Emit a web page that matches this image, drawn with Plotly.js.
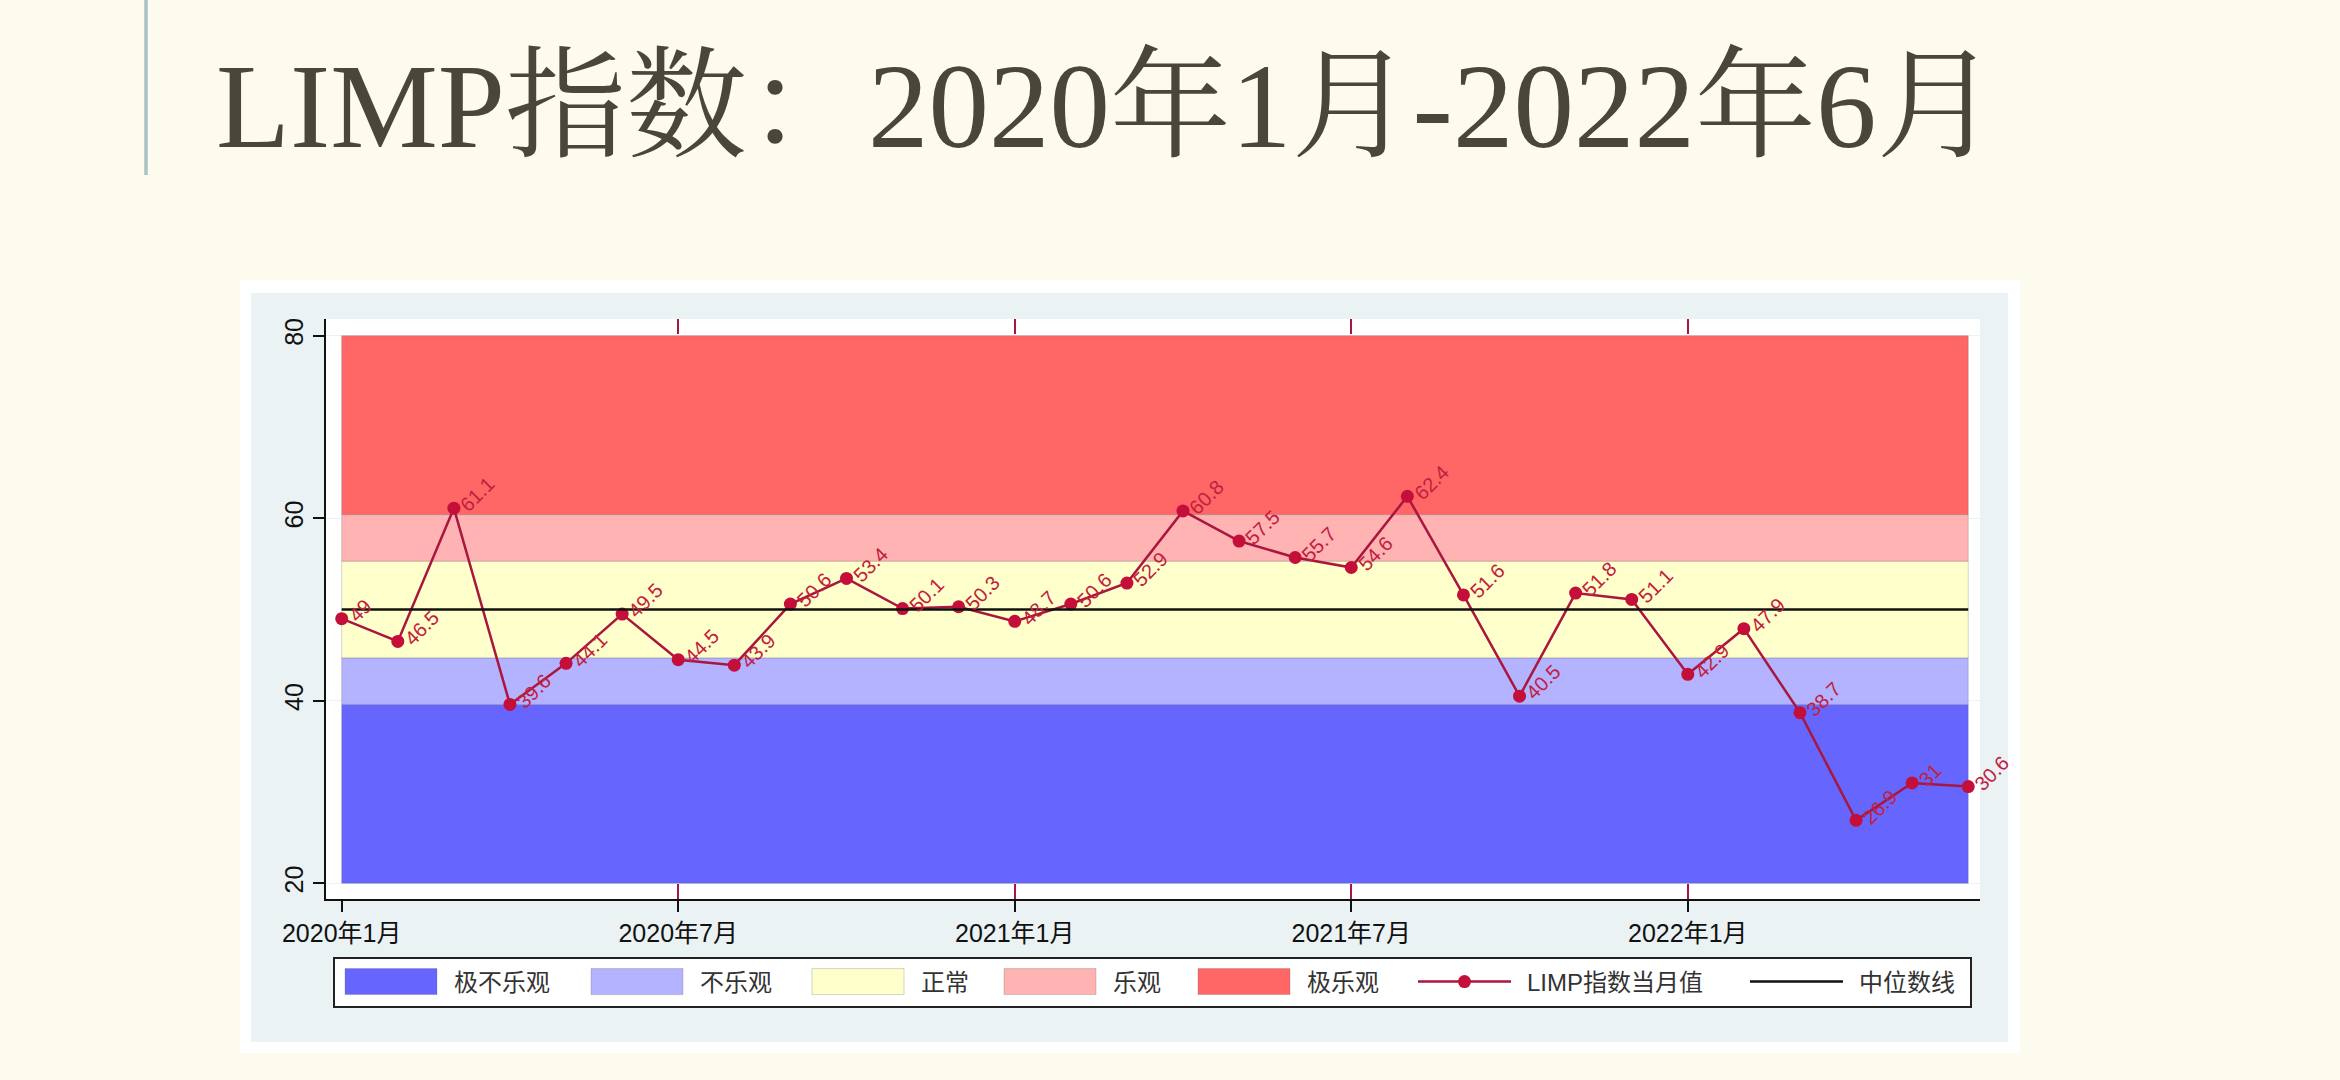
<!DOCTYPE html>
<html>
<head>
<meta charset="utf-8">
<script src="https://cdn.plot.ly/plotly-3.0.1.min.js"></script>
<style>
  html, body { margin: 0; padding: 0; background: #fdfaee; }
  #chart { width: 2340px; height: 1080px; }
</style>
</head>
<body>
<div id="chart"></div>
<script>
// monthly LIMP index, Jan 2020 - Jun 2022
const months = ['2020-01', '2020-02', '2020-03', '2020-04', '2020-05', '2020-06',
                '2020-07', '2020-08', '2020-09', '2020-10', '2020-11', '2020-12',
                '2021-01', '2021-02', '2021-03', '2021-04', '2021-05', '2021-06',
                '2021-07', '2021-08', '2021-09', '2021-10', '2021-11', '2021-12',
                '2022-01', '2022-02', '2022-03', '2022-04', '2022-05', '2022-06'];
const limpValues = [49, 46.5, 61.1, 39.6, 44.1, 49.5,
                    44.5, 43.9, 50.6, 53.4, 50.1, 50.3,
                    48.7, 50.6, 52.9, 60.8, 57.5, 55.7,
                    54.6, 62.4, 51.6, 40.5, 51.8, 51.1,
                    42.9, 47.9, 38.7, 26.9, 31, 30.6];
const medianValue = 50;

const tickMonths = ['2020-01', '2020-07', '2021-01', '2021-07', '2022-01'];
const tickLabels = ['2020年1月', '2020年7月', '2021年1月', '2021年7月', '2022年1月'];
const yTicks = [20, 40, 60, 80];

const bandNames = ['极不乐观', '不乐观', '正常', '乐观', '极乐观'];
const bandLow = [20, 39.6, 44.7, 55.3, 60.4];
const bandHigh = [39.6, 44.7, 55.3, 60.4, 80];
const bandColors = ['#6666ff', '#b3b3ff', '#ffffcc', '#ffb3b3', '#ff6666'];

const seriesName = 'LIMP指数当月值';
const medianName = '中位数线';
const titleText = 'LIMP指数：2020年1月-2022年6月';

// page geometry (pixels) -> paper coords
const PLOT_L = 326, PLOT_R = 1980, PLOT_T = 319, PLOT_B = 899;
const px = v => (v - PLOT_L) / (PLOT_R - PLOT_L);
const py = v => (PLOT_B - v) / (PLOT_B - PLOT_T);
const X_RANGE = [-0.28, 29.21];
// left edge of each legend key, in page pixels
const legendSlots = [345, 591, 812, 1004, 1198, 1418, 1750];

const sansFont = 'Liberation Sans, Arial, "Noto Sans CJK SC", sans-serif';
const serifFont = 'Liberation Serif, "Noto Serif CJK SC", "Noto Sans CJK SC", serif';
const markerColor = '#c40f3a';
const lineColor = '#a9163e';

let traces = [];

const first = months[0], last = months[months.length - 1];
bandNames.forEach((name, i) => {
    traces.push({
        x: [first, last, last, first, first],
        y: [bandLow[i], bandLow[i], bandHigh[i], bandHigh[i], bandLow[i]],
        type: 'scatter',
        mode: 'lines',
        name: name,
        fill: 'toself',
        fillcolor: bandColors[i],
        line: { color: 'rgba(90,90,90,0.25)', width: 1 },
        hoverinfo: 'skip'
    });
});

traces.push({
    x: months,
    y: limpValues,
    type: 'scatter',
    mode: 'lines+markers',
    name: seriesName,
    line: { color: lineColor, width: 2.5 },
    marker: { color: markerColor, size: 13 }
});

// median line lives on the overlay axis (same month index scale)
traces.push({
    x: [0, months.length - 1],
    y: [medianValue, medianValue],
    xaxis: 'x2',
    type: 'scatter',
    mode: 'lines',
    name: medianName,
    line: { color: '#111111', width: 2.5 }
});

traces.forEach((t, i) => { t.legend = i === 0 ? 'legend' : 'legend' + (i + 1); });

// rotated value labels to the right of each marker
const LABEL_SIZE = 20;
const charW = c => (c === '.' ? 0.278 : 0.556) * LABEL_SIZE;
const labels = months.map((m, i) => {
    const txt = String(limpValues[i]);
    const half = txt.split('').reduce((s, c) => s + charW(c), 0) / 2;
    return {
        x: m, y: limpValues[i], xref: 'x', yref: 'y',
        text: txt, showarrow: false, textangle: -45,
        xanchor: 'center', yanchor: 'middle',
        xshift: 10 + half * 0.707, yshift: half * 0.707,
        font: { family: sansFont, size: LABEL_SIZE, color: '#c2203f' }
    };
});

const redTicks = tickMonths.slice(1).map(m => months.indexOf(m));

const shapes = [
    // accent bar beside the slide title
    { type: 'line', xref: 'paper', yref: 'paper', layer: 'below',
      x0: px(146), x1: px(146), y0: py(0), y1: py(175),
      line: { color: '#a8c3c5', width: 3.5 } },
    // white frame
    { type: 'rect', xref: 'paper', yref: 'paper', layer: 'below',
      x0: px(240), x1: px(2020), y0: py(1053), y1: py(280),
      fillcolor: '#ffffff', line: { width: 0 } },
    // graph region
    { type: 'rect', xref: 'paper', yref: 'paper', layer: 'below',
      x0: px(251), x1: px(2008), y0: py(1042), y1: py(293),
      fillcolor: '#eaf2f3', line: { width: 0 } },
    // plot region
    { type: 'rect', xref: 'paper', yref: 'paper', layer: 'below',
      x0: 0, x1: 1, y0: 0, y1: 1,
      fillcolor: '#ffffff', line: { width: 0 } },
    // legend frame
    { type: 'rect', xref: 'paper', yref: 'paper', layer: 'below',
      x0: px(334), x1: px(1971), y0: py(1007), y1: py(958),
      fillcolor: '#ffffff', line: { color: '#222222', width: 2 } }
];

const layout = {
    autosize: false,
    width: 2340,
    height: 1080,
    margin: { l: PLOT_L, r: 2340 - PLOT_R, t: PLOT_T, b: 1080 - PLOT_B, pad: 0 },
    paper_bgcolor: '#fdfaee',
    plot_bgcolor: '#ffffff',
    title: {
        text: titleText,
        xref: 'container', x: 216 / 2340, xanchor: 'left',
        yref: 'container', y: 1 - 105 / 1080, yanchor: 'middle',
        pad: { l: 0, r: 0, t: 0, b: 0 },
        font: { family: serifFont, size: 121, color: '#4b4738' }
    },
    showlegend: true,
    xaxis: {
        type: 'category',
        categoryorder: 'array',
        categoryarray: months,
        range: X_RANGE,
        showline: true, linecolor: '#111111', linewidth: 2,
        ticks: 'outside', ticklen: 11, tickwidth: 2, tickcolor: '#111111',
        tickvals: tickMonths, ticktext: tickLabels,
        tickfont: { family: sansFont, size: 25, color: '#111111' },
        showgrid: false, zeroline: false, fixedrange: true
    },
    xaxis2: {
        overlaying: 'x', anchor: 'y', side: 'bottom',
        range: X_RANGE,
        showline: false, showgrid: false, zeroline: false,
        ticks: 'inside', mirror: 'ticks', ticklen: 15, tickwidth: 2,
        tickcolor: lineColor,
        tickvals: redTicks, showticklabels: false, fixedrange: true
    },
    yaxis: {
        range: [18.28, 81.83],
        showline: true, linecolor: '#111111', linewidth: 2,
        ticks: 'outside', ticklen: 11, tickwidth: 2, tickcolor: '#111111',
        tickvals: yTicks, tickangle: -90,
        tickfont: { family: sansFont, size: 25, color: '#111111' },
        showgrid: true, gridcolor: '#eaf2f3', gridwidth: 1,
        zeroline: false, fixedrange: true
    },
    shapes: shapes,
    annotations: labels
};

// one legend per key so each sits where Stata put it
legendSlots.forEach((slot, i) => {
    layout[i === 0 ? 'legend' : 'legend' + (i + 1)] = {
        orientation: 'h',
        x: px(slot - 5), xanchor: 'left',
        y: py(982), yanchor: 'middle',
        bgcolor: 'rgba(0,0,0,0)',
        borderwidth: 0,
        itemwidth: 104,
        itemclick: false,
        itemdoubleclick: false,
        font: { family: sansFont, size: 24, color: '#333333' }
    };
});

Plotly.newPlot('chart', traces, layout, { displayModeBar: false, responsive: false })
.then(gd => {
    // Stata-style legend keys: solid blocks for the bands, 93px lines for series
    gd.querySelectorAll('g.traces').forEach(item => {
        const d = item.__data__;
        if (!d || !d[0] || !d[0].trace) return;
        const name = d[0].trace.name;
        const fill = item.querySelector('path.js-fill');
        const line = item.querySelector('path.js-line');
        if (bandNames.includes(name)) {
            const box = 'M5,-13h92v26h-92z';
            if (fill) fill.setAttribute('d', box);
            if (line) line.setAttribute('d', box);
        } else {
            if (line) line.setAttribute('d', 'M5,0h93');
            const pt = item.querySelector('path.scatterpts');
            if (pt) pt.setAttribute('transform', 'translate(51.5,0)');
        }
    });
});
</script>
</body>
</html>
